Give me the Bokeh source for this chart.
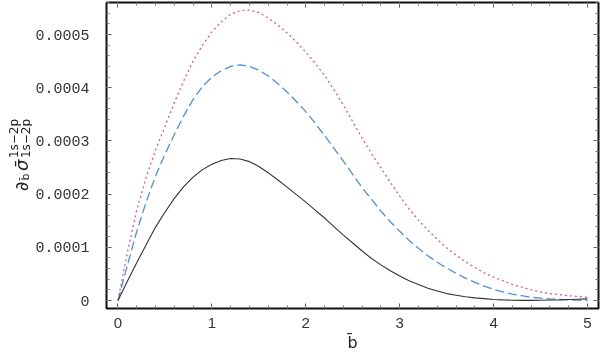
import math
from bokeh.plotting import figure
from bokeh.layouts import row
from bokeh.models import (FixedTicker, CustomJSTickFormatter, Range1d,
                          LinearAxis)
from bokeh.core.properties import value
from bokeh.embed import file_html
from bokeh.resources import INLINE

# ---- data ----
b_bar = [round(0.1 * i, 1) for i in range(51)]
solid_black = [0, 0.000036, 0.000071, 0.000105, 0.000138, 0.000166, 0.000192,
               0.000214, 0.000232, 0.000246, 0.000256, 0.000263, 0.000267,
               0.000266, 0.000261, 0.000252, 0.000240, 0.000227, 0.000213,
               0.000199, 0.000185, 0.000170, 0.000155, 0.000139, 0.000123,
               0.000108, 0.000093, 0.000079, 0.000067, 0.000056, 0.000046,
               0.000037, 0.000030, 0.000023, 0.000018, 0.000013, 0.000010,
               0.000007, 0.000005, 0.0000035, 0.000002, 0.0000012, 0.0000006,
               0.0000003, 0.0000002, 0.0000004, 0.0000008, 0.0000012,
               0.0000018, 0.0000024, 0.000003]
dashed_blue = [0, 0.000066, 0.000130, 0.000185, 0.000234, 0.000275, 0.000312,
               0.000347, 0.000378, 0.000402, 0.000420, 0.000432, 0.000440,
               0.000443, 0.000440, 0.000433, 0.000422, 0.000408, 0.000392,
               0.000374, 0.000355, 0.000333, 0.000310, 0.000286, 0.000262,
               0.000237, 0.000212, 0.000190, 0.000168, 0.000148, 0.000130,
               0.000113, 0.000098, 0.000084, 0.000072, 0.000061, 0.000051,
               0.000042, 0.000034, 0.000027, 0.000021, 0.000016, 0.000012,
               0.000009, 0.000006, 0.0000045, 0.000003, 0.000002, 0.0000012,
               0.0000006, 0.0]
dotted_pink = [0, 0.000090, 0.000170, 0.000232, 0.000283, 0.000327, 0.000372,
               0.000413, 0.000450, 0.000480, 0.000505, 0.000524, 0.000538,
               0.000545, 0.000546, 0.000541, 0.000531, 0.000518, 0.000503,
               0.000486, 0.000467, 0.000446, 0.000423, 0.000396, 0.000367,
               0.000336, 0.000305, 0.000276, 0.000249, 0.000222, 0.000196,
               0.000172, 0.000151, 0.000132, 0.000115, 0.000099, 0.000085,
               0.000073, 0.000062, 0.000052, 0.000044, 0.000037, 0.000030,
               0.000025, 0.000020, 0.000016, 0.000013, 0.000011, 0.000009,
               0.0000075, 0.000006]

x_ticks = [0, 1, 2, 3, 4, 5]
y_ticks = [0, 0.0001, 0.0002, 0.0003, 0.0004, 0.0005]
x_minor = [round(0.2 * i, 2) for i in range(0, 26)]
y_minor = [round(0.00002 * i, 6) for i in range(0, 29)]

x_title = "b\u0304"
y_title_parts = ["\u2202", "b\u0304", "\u03c3\u0304", "1s\u22122p", "1s\u22122p"]

# ---- layout constants (pixels on the page) ----
W, H = 600, 354
LW = 32                                   # left strip (y title)
FL, FR, FT, FB = 105, 598, 2, 308         # frame edges on the page
X0PX, X5PX = 116.5, 587.0                 # pixel of x=0 and x=5
Y0PX, Y5PX = 300.0, 34.0                  # pixel of y=0 and y=0.0005
sx = (X5PX - X0PX) / 5.0
sy = (Y0PX - Y5PX) / 0.0005

def dx(px):
    return (px - X0PX) / sx

def dy(py):
    return (Y0PX - py) / sy

p = figure(width=W - LW, height=H, output_backend="svg", toolbar_location=None,
           x_range=Range1d(dx(FL), dx(FR)), y_range=Range1d(dy(FB), dy(FT)),
           min_border_left=FL - LW, min_border_right=W - FR, min_border_top=FT,
           min_border_bottom=H - FB)
p.background_fill_color = "white"
p.border_fill_color = "white"
p.outline_line_color = "#111111"
p.outline_line_width = 2
p.grid.visible = False

p.line(b_bar, dotted_pink, line_color="#e0559a", line_width=1.3, line_dash="2 3")
p.line(b_bar, dashed_blue, line_color="#4f8fdc", line_width=1.3, line_dash="9 4")
p.line(b_bar, solid_black, line_color="#333333", line_width=1.1)

def style_axis(ax, ticks, minor, show_labels):
    ax.ticker = FixedTicker(ticks=ticks, minor_ticks=minor)
    ax.axis_line_color = None
    ax.major_tick_in = 5
    ax.major_tick_out = 0
    ax.minor_tick_in = 3
    ax.minor_tick_out = 0
    ax.major_tick_line_color = "#555555"
    ax.minor_tick_line_color = "#777777"
    ax.major_tick_line_width = 1
    ax.minor_tick_line_width = 1
    if not show_labels:
        ax.major_label_text_font_size = "0px"
        ax.major_label_text_alpha = 0

xa = p.xaxis[0]
style_axis(xa, x_ticks, x_minor, True)
xa.major_label_text_font = "Liberation Sans"
xa.major_label_text_font_size = "15px"
xa.major_label_text_color = "#333333"
xa.major_label_standoff = 9
xa.axis_label = x_title
xa.axis_label_text_font = "DejaVu Sans"
xa.axis_label_text_font_size = "16px"
xa.axis_label_text_font_style = "normal"
xa.axis_label_text_color = "#222222"
xa.axis_label_standoff = 2

ya = p.yaxis[0]
style_axis(ya, y_ticks, y_minor, True)
ya.formatter = CustomJSTickFormatter(code="return tick == 0 ? '0' : tick.toFixed(4);")
ya.major_label_text_font = "Liberation Mono"
ya.major_label_text_font_size = "15px"
ya.major_label_text_color = "#333333"
ya.major_label_standoff = 17

top = LinearAxis()
style_axis(top, x_ticks, x_minor, False)
p.add_layout(top, "above")
right = LinearAxis()
style_axis(right, y_ticks, y_minor, False)
p.add_layout(right, "right")

# ---- left strip with the y title ----
left = figure(width=LW, height=H, output_backend="svg", toolbar_location=None,
              x_axis_location=None, y_axis_location=None,
              x_range=Range1d(0, LW), y_range=Range1d(H, 0), min_border=0)
left.outline_line_color = None
left.grid.visible = False
ang = math.pi / 2
pos = [(21, 218, "18px", "italic"), (25, 206, "11px", "normal"),
       (21, 195, "18px", "italic"), (13, 180, "12px", "normal"),
       (25, 180, "12px", "normal")]
for txt, (px, py, fs, st) in zip(y_title_parts, pos):
    left.text(x=[px], y=[py], text=[txt], angle=ang, text_align="left",
              text_baseline="alphabetic", text_font=value("DejaVu Sans"),
              text_font_size=fs, text_font_style=st, text_color="#222222")

layout = row(left, p, spacing=0)
layout.styles = {"position": "fixed", "left": "0px", "top": "0px"}

open("out.html", "w").write(file_html(layout, INLINE))
